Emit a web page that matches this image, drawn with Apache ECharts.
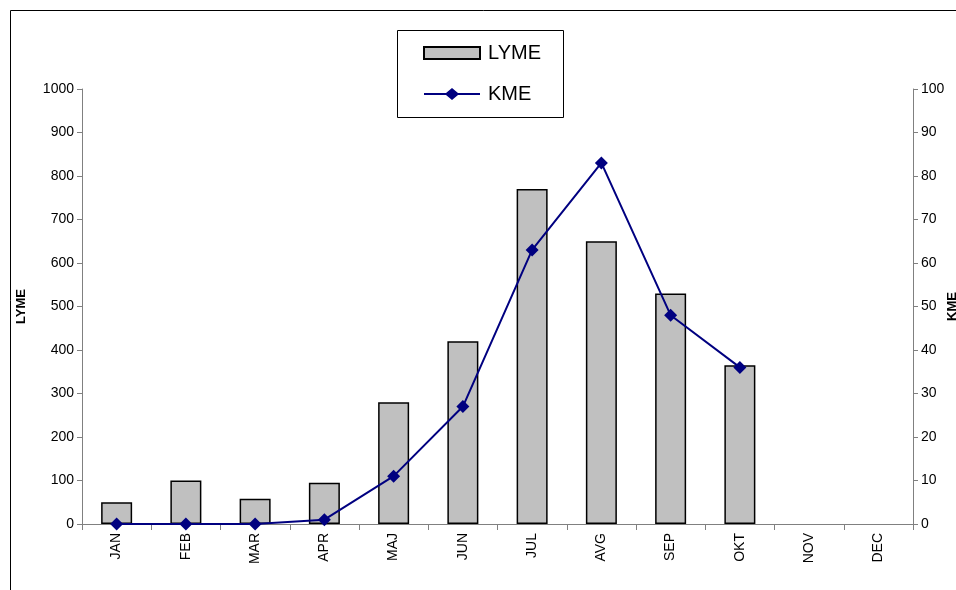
<!DOCTYPE html>
<html><head><meta charset="utf-8">
<script src="https://cdn.jsdelivr.net/npm/echarts@6/dist/echarts.min.js"></script>
<style>html,body{margin:0;padding:0;background:#fff}#c{width:956px;height:590px}</style>
</head><body><div id="c"></div>
<script>
const months = ['JAN','FEB','MAR','APR','MAJ','JUN','JUL','AVG','SEP','OKT','NOV','DEC'];
const lyme = [50,100,58,95,280,420,770,650,530,365,null,null];
const kme = [0,0,0,1,11,27,63,83,48,36,null,null];
const leftTicks = {min:0,max:1000,interval:100};
const rightTicks = {min:0,max:100,interval:10};

const chart = echarts.init(document.getElementById('c'), null, {renderer:'canvas'});
const font = 'Liberation Sans, Arial, sans-serif';
const kmeIcon = 'path://M0,5 L22,5 L28,0 L34,5 L56,5 L56,7 L34,7 L28,12 L22,7 L0,7 Z';
chart.setOption({
  animation:false,
  textStyle:{fontFamily:font},
  graphic:[
    {type:'rect',shape:{x:10.5,y:10.5,width:960,height:600},style:{fill:'none',stroke:'#000',lineWidth:1},silent:true},
    {type:'rect',shape:{x:397.5,y:30.5,width:166,height:87},style:{fill:'#fff',stroke:'#000',lineWidth:1},silent:true,z:-1}
  ],
  grid:{left:82,right:43,top:89,bottom:66,containLabel:false,outerBoundsMode:'none'},
  legend:{
    orient:'vertical',left:418,top:38,itemWidth:56,itemHeight:12,itemGap:21,
    textStyle:{fontSize:20,color:'#000',fontFamily:font,padding:[0,0,0,3]},
    data:[{name:'LYME',icon:'rect'},{name:'KME',icon:kmeIcon}]
  },
  xAxis:{
    type:'category',data:months,
    axisLine:{lineStyle:{color:'#808080',width:1}},
    axisTick:{show:true,alignWithLabel:false,length:6,lineStyle:{color:'#808080'}},
    axisLabel:{rotate:90,color:'#000',fontSize:14,margin:9,fontFamily:font}
  },
  yAxis:[
    {type:'value',min:leftTicks.min,max:leftTicks.max,interval:leftTicks.interval,
     name:'LYME',nameLocation:'middle',nameRotate:90,nameGap:54,nameMoveOverlap:false,
     nameTextStyle:{fontWeight:'bold',fontSize:13,color:'#000',fontFamily:font},
     axisLine:{show:true,lineStyle:{color:'#808080'}},
     axisTick:{show:true,length:5,lineStyle:{color:'#808080'}},
     axisLabel:{color:'#000',fontSize:14,margin:8,fontFamily:font,formatter:v=>String(v)},
     splitLine:{show:false}},
    {type:'value',min:rightTicks.min,max:rightTicks.max,interval:rightTicks.interval,
     name:'KME',nameLocation:'middle',nameRotate:90,nameGap:33,nameMoveOverlap:false,
     nameTextStyle:{fontWeight:'bold',fontSize:13,color:'#000',fontFamily:font},
     axisLine:{show:true,lineStyle:{color:'#808080'}},
     axisTick:{show:true,length:5,lineStyle:{color:'#808080'}},
     axisLabel:{color:'#000',fontSize:14,margin:8,fontFamily:font,formatter:v=>String(v)},
     splitLine:{show:false}}
  ],
  series:[
    {name:'LYME',type:'bar',data:lyme,yAxisIndex:0,barWidth:31,
     itemStyle:{color:'#c0c0c0',borderColor:'#000',borderWidth:1.5}},
    {name:'KME',type:'line',data:kme,yAxisIndex:1,symbol:'diamond',symbolSize:13,
     lineStyle:{color:'#000080',width:2},itemStyle:{color:'#000080'}}
  ]
});
</script></body></html>
